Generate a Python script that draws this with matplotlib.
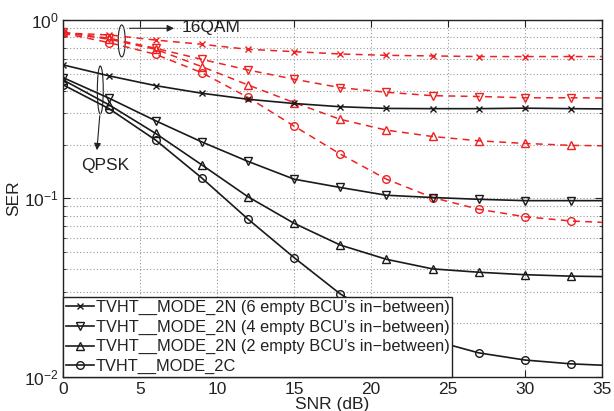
import matplotlib
matplotlib.use("Agg")
import matplotlib.pyplot as plt
from matplotlib.patches import Ellipse
from matplotlib.ticker import LogLocator, LogFormatterSciNotation, NullFormatter

plt.rcParams['font.family'] = ['Liberation Sans', 'DejaVu Sans']
plt.rcParams['mathtext.fontset'] = 'custom'
plt.rcParams['mathtext.rm'] = 'Liberation Sans'
plt.rcParams['mathtext.it'] = 'Liberation Sans:italic'
plt.rcParams['mathtext.bf'] = 'Liberation Sans:bold'

snr = [0, 3, 6, 9, 12, 15, 18, 21, 24, 27, 30, 33, 35]

qpsk_6 = [0.559, 0.485, 0.428, 0.388, 0.359, 0.340, 0.326, 0.319, 0.318, 0.318, 0.320, 0.318, 0.317]
qpsk_4 = [0.474, 0.363, 0.272, 0.207, 0.161, 0.128, 0.115, 0.104, 0.101, 0.0987, 0.097, 0.097, 0.097]
qpsk_2 = [0.460, 0.333, 0.231, 0.154, 0.102, 0.0724, 0.0547, 0.0455, 0.0402, 0.0385, 0.0373, 0.0366, 0.0364]
qpsk_2c = [0.432, 0.317, 0.212, 0.130, 0.0765, 0.0465, 0.0291, 0.0205, 0.0160, 0.0136, 0.0124, 0.0118, 0.0116]

qam_6 = [0.845, 0.823, 0.771, 0.730, 0.684, 0.664, 0.644, 0.633, 0.628, 0.623, 0.623, 0.623, 0.623]
qam_4 = [0.850, 0.789, 0.693, 0.601, 0.524, 0.465, 0.417, 0.393, 0.376, 0.372, 0.366, 0.366, 0.365]
qam_2 = [0.850, 0.778, 0.684, 0.547, 0.432, 0.344, 0.277, 0.241, 0.222, 0.210, 0.203, 0.198, 0.197]
qam_2c = [0.842, 0.745, 0.641, 0.506, 0.368, 0.254, 0.177, 0.128, 0.101, 0.0868, 0.0788, 0.0746, 0.0733]

labels = ["TVHT__MODE_2N (6 empty BCU\u2019s in\u2212between)",
          "TVHT__MODE_2N (4 empty BCU\u2019s in\u2212between)",
          "TVHT__MODE_2N (2 empty BCU\u2019s in\u2212between)",
          "TVHT__MODE_2C"]

fig = plt.figure(figsize=(6.14, 4.11), dpi=100)
ax = fig.add_axes([0.1031, 0.0835, 0.877, 0.8681])

markers = [('x', 4), ('v', 6), ('^', 6), ('o', 5.5)]
mev = slice(0, 12)

red = '#ee2222'
for data, (m, ms) in zip([qam_6, qam_4, qam_2, qam_2c], markers):
    ax.plot(snr, data, color=red, ls=(0, (4.5, 3.5)), lw=1.1, marker=m, ms=ms,
            mfc='none', mec=red, mew=1.0, markevery=mev)

handles = []
for data, (m, ms), lab in zip([qpsk_6, qpsk_4, qpsk_2, qpsk_2c], markers, labels):
    h, = ax.plot(snr, data, color='#1a1a1a', ls='-', lw=1.2, marker=m, ms=ms,
                 mfc='none', mec='#1a1a1a', mew=1.0, markevery=mev, label=lab)
    handles.append(h)

ax.set_yscale('log')
ax.set_xlim(0, 35)
ax.set_ylim(1e-2, 1)
ax.set_xticks([0, 5, 10, 15, 20, 25, 30, 35])
ax.yaxis.set_major_locator(LogLocator(base=10))
ax.yaxis.set_minor_locator(LogLocator(base=10, subs=range(2, 10)))
ax.yaxis.set_minor_formatter(NullFormatter())
ax.yaxis.set_major_formatter(LogFormatterSciNotation())

ax.grid(True, which='major', ls=(0, (1, 2)), color='#999999', lw=0.8)
ax.grid(True, which='minor', axis='y', ls=(0, (1, 2)), color='#999999', lw=0.8)
ax.tick_params(which='both', direction='in', top=True, right=True, labelsize=12.5, colors='#222222')
ax.tick_params(which='major', length=5)
ax.tick_params(which='minor', length=2.5)
for s in ax.spines.values():
    s.set_linewidth(1.0)
    s.set_color('#222222')

ax.set_xlabel('SNR (dB)', fontsize=12.5, labelpad=0, color='#222222')
ax.set_ylabel('SER', fontsize=12.5, labelpad=2, color='#222222')

leg = ax.legend(handles=handles, loc='lower left', bbox_to_anchor=(0, 0), borderaxespad=0,
                fontsize=11.8, frameon=True, fancybox=False, edgecolor='#222222',
                framealpha=1, handlelength=1.7, handletextpad=0.15, labelspacing=0.28,
                borderpad=0.15)
leg.get_frame().set_linewidth(1.0)
for t in leg.get_texts():
    t.set_color('#222222')

# ellipses
ax.add_patch(Ellipse((0.1085, 0.941), 0.013, 0.0897, transform=ax.transAxes,
                     fill=False, ec='#222222', lw=0.8))
ax.add_patch(Ellipse((0.0687, 0.8035), 0.011, 0.1345, transform=ax.transAxes,
                     fill=False, ec='#222222', lw=0.8))

ax.annotate('', xy=(0.2106, 0.9765), xytext=(0.1176, 0.9765), xycoords='axes fraction',
            arrowprops=dict(arrowstyle='-|>', color='#222222', lw=0.8, mutation_scale=10))
ax.text(0.2205, 0.9785, '16QAM', transform=ax.transAxes, fontsize=12.5, va='center',
        ha='left', color='#222222')
ax.annotate('', xy=(0.0620, 0.627), xytext=(0.0681, 0.7391), xycoords='axes fraction',
            arrowprops=dict(arrowstyle='-|>', color='#222222', lw=0.8, mutation_scale=10))
ax.text(0.0775, 0.593, 'QPSK', transform=ax.transAxes, fontsize=12.5, va='center',
        ha='center', color='#222222')

fig.savefig('out.png', dpi=100, facecolor='white')
